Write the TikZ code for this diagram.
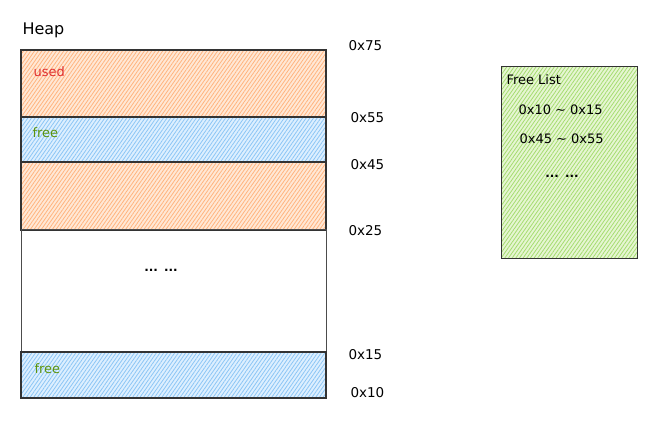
\documentclass[tikz,border=0pt]{standalone}
\usepackage{fontspec}
\setmainfont{DejaVu Sans}
\usetikzlibrary{patterns.meta}

\definecolor{usedfill}{HTML}{FFE8D6}
\definecolor{usedline}{HTML}{FFB47E}
\definecolor{freefill}{HTML}{DDEFFF}
\definecolor{freeline}{HTML}{8CC6F5}
\definecolor{listfill}{HTML}{E6F6D2}
\definecolor{listline}{HTML}{A5DC70}
\definecolor{usedtxt}{HTML}{E03131}
\definecolor{freetxt}{HTML}{5C940D}

\tikzset{
  hatch/.style 2 args={preaction={fill=#1},
    preaction={pattern={Lines[angle=55,distance=3pt,line width=0.8pt]}, pattern color=#2}},
  block/.style={draw=black!80, line width=1.3pt, anchor=north west,
    minimum width=305pt, inner sep=0pt, outer sep=0pt},
  usedblk/.style={block, hatch={usedfill}{usedline}},
  freeblk/.style={block, hatch={freefill}{freeline}},
  addr/.style={anchor=west, font=\fontsize{13.5}{15}\selectfont},
  tag/.style={anchor=west, font=\fontsize{13}{15}\selectfont},
  dots/.style={font=\bfseries\fontsize{12}{14}\selectfont},
}

\begin{document}
\begin{tikzpicture}[x=1pt,y=-1pt]
  \useasboundingbox (0,0) rectangle (668,435);

  % heap column
  \node[anchor=west, font=\fontsize{16}{18}\selectfont] (heap) at (19,30) {Heap};
  \node[usedblk, minimum height=67pt] (used1) at (21,50) {};
  \node[freeblk, minimum height=45pt] (free1) at (21,117) {};
  \node[usedblk, minimum height=68pt] (used2) at (21,162) {};
  \node[block, draw=black!70, line width=1pt, minimum height=122pt] (rest) at (21,230) {};
  \node[freeblk, minimum height=46pt] (free2) at (21,352) {};

  \node[tag, text=usedtxt] (usedlbl) at (30,72) {used};
  \node[tag, text=freetxt] (freelbl1) at (29,133) {free};
  \node[tag, text=freetxt] (freelbl2) at (31,369) {free};
  \node[dots] (dots1) at (161,270) {...\hspace{6pt}...};

  % addresses
  \node[addr] (a75) at (345,46) {0x75};
  \node[addr] (a55) at (347,118) {0x55};
  \node[addr] (a45) at (347,165) {0x45};
  \node[addr] (a25) at (345,231) {0x25};
  \node[addr] (a15) at (345,355) {0x15};
  \node[addr] (a10) at (347,393) {0x10};

  % free list
  \node[draw=black!80, line width=1pt, anchor=north west, minimum width=136pt,
    minimum height=192pt, inner sep=0pt, hatch={listfill}{listline}]
    (list) at (501,66) {};
  \node[tag] (listhead) at (503,80) {Free List};
  \node[tag] (range1) at (515,110) {0x10 \textasciitilde\ 0x15};
  \node[tag] (range2) at (516,139) {0x45 \textasciitilde\ 0x55};
  \node[dots] (dots2) at (562,176) {...\hspace{6pt}...};
\end{tikzpicture}
\end{document}
